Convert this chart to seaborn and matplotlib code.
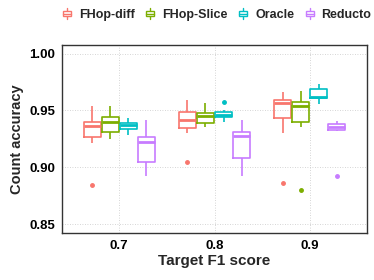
import numpy as np
import pandas as pd
import seaborn as sns
import matplotlib
matplotlib.use("Agg")
import matplotlib.pyplot as plt
from matplotlib.patches import Patch, Rectangle
from matplotlib.lines import Line2D
from matplotlib.legend_handler import HandlerBase

# ---- data (five-number summaries) ----
categories = ["0.7", "0.8", "0.9"]
methods = ["FHop-diff", "FHop-Slice", "Oracle", "Reducto"]
colors = ["#F8766D", "#7CAE00", "#00BFC4", "#C77CFF"]

whisker_low = {
    "FHop-diff":  [0.921, 0.930, 0.930],
    "FHop-Slice": [0.9246, 0.935, 0.9357],
    "Oracle":     [0.928, 0.940, 0.956],
    "Reducto":    [0.892, 0.892, 0.932],
}
q1 = {
    "FHop-diff":  [0.927, 0.9348, 0.9433],
    "FHop-Slice": [0.931, 0.939, 0.940],
    "Oracle":     [0.934, 0.9439, 0.9608],
    "Reducto":    [0.905, 0.908, 0.933],
}
median = {
    "FHop-diff":  [0.936, 0.9418, 0.9564],
    "FHop-Slice": [0.940, 0.945, 0.9535],
    "Oracle":     [0.937, 0.9462, 0.9617],
    "Reducto":    [0.9222, 0.9275, 0.9354],
}
q3 = {
    "FHop-diff":  [0.940, 0.9483, 0.9588],
    "FHop-Slice": [0.944, 0.948, 0.9576],
    "Oracle":     [0.939, 0.9486, 0.969],
    "Reducto":    [0.9266, 0.931, 0.9377],
}
whisker_high = {
    "FHop-diff":  [0.954, 0.9588, 0.966],
    "FHop-Slice": [0.954, 0.9568, 0.9667],
    "Oracle":     [0.9436, 0.9506, 0.9734],
    "Reducto":    [0.942, 0.942, 0.9406],
}
outliers = {
    "FHop-diff":  [0.8845, 0.9044, 0.8866],
    "FHop-Slice": [None, None, 0.880],
    "Oracle":     [None, 0.957, None],
    "Reducto":    [None, None, 0.892],
}

# Build samples whose boxplot statistics equal the summaries above
rows = []
for m in methods:
    for i, c in enumerate(categories):
        vals = [whisker_low[m][i], whisker_low[m][i], q1[m][i], q1[m][i],
                median[m][i], q3[m][i], q3[m][i],
                whisker_high[m][i], whisker_high[m][i]]
        o = outliers[m][i]
        if o is not None:
            if o < q1[m][i]:
                vals[0] = o
            else:
                vals[-1] = o
        for v in vals:
            rows.append({"target": c, "method": m, "acc": v})
df = pd.DataFrame(rows)

# ---- plotting ----
sns.set_style("white")
plt.rcParams["font.family"] = ["Liberation Sans", "DejaVu Sans"]
plt.rcParams["font.weight"] = "bold"

fig = plt.figure(figsize=(3.74, 2.80), dpi=100)
ax = fig.add_axes([62 / 374, 1 - 232.7 / 280, (367 - 62) / 374, (232.7 - 45) / 280])

sns.boxplot(data=df, x="target", y="acc", hue="method",
            order=categories, hue_order=methods, palette=colors,
            fill=False, width=0.76, gap=0.06, linewidth=1.2,
            whis=1.5, fliersize=2.5, legend=False,
            medianprops={"linewidth": 2.0},
            capprops={"visible": False},
            flierprops={"marker": "o"},
            ax=ax)

for ln in ax.lines:
    mk = ln.get_marker()
    if mk not in (None, "None", "", " "):
        ln.set_markerfacecolor(ln.get_markeredgecolor())

ax.set_xlim(-0.6, 2.6)
ax.set_ylim(0.8425, 1.0075)
ax.set_yticks([0.85, 0.90, 0.95, 1.00])
ax.set_yticklabels(["0.85", "0.90", "0.95", "1.00"])

ax.set_axisbelow(True)
ax.grid(True, linestyle=(0, (1, 2)), color="#c8c8c8", linewidth=0.6)
for s in ax.spines.values():
    s.set_color("#333333")
    s.set_linewidth(1.0)
ax.tick_params(axis="both", length=3, width=0.8, color="#333333",
               labelsize=9.5, labelcolor="black", pad=2)
for t in ax.get_xticklabels() + ax.get_yticklabels():
    t.set_fontweight("bold")

ax.set_xlabel("Target F1 score", fontsize=11, fontweight="bold", labelpad=2)
ax.set_ylabel("Count accuracy", fontsize=10.5, fontweight="bold", labelpad=4)


class BoxHandler(HandlerBase):
    def create_artists(self, legend, orig_handle, xdescent, ydescent,
                       width, height, fontsize, trans):
        c = orig_handle.get_edgecolor()
        x0, y0 = -xdescent, -ydescent
        cx = x0 + width / 2
        arts = []
        arts.append(Line2D([cx, cx], [y0 - height * 0.15, y0 + height * 1.15],
                           color=c, lw=1.0, transform=trans))
        arts.append(Rectangle((x0 + width * 0.1, y0 + height * 0.2),
                              width * 0.8, height * 0.6, facecolor="white",
                              edgecolor=c, lw=1.0, transform=trans))
        arts.append(Line2D([x0 + width * 0.1, x0 + width * 0.9],
                           [y0 + height * 0.5, y0 + height * 0.5],
                           color=c, lw=1.0, transform=trans))
        return arts


handles = [Patch(edgecolor=c, facecolor="white", label=m)
           for m, c in zip(methods, colors)]
fig.legend(handles=handles, labels=methods, loc="center left",
           bbox_to_anchor=(62 / 374, 1 - 15 / 280), ncol=4, frameon=False,
           borderpad=0, borderaxespad=0, handlelength=0.8, handleheight=0.7,
           handletextpad=0.55, columnspacing=0.85,
           prop={"size": 9, "weight": "bold"},
           handler_map={Patch: BoxHandler()})

fig.savefig("out.png", dpi=100)
